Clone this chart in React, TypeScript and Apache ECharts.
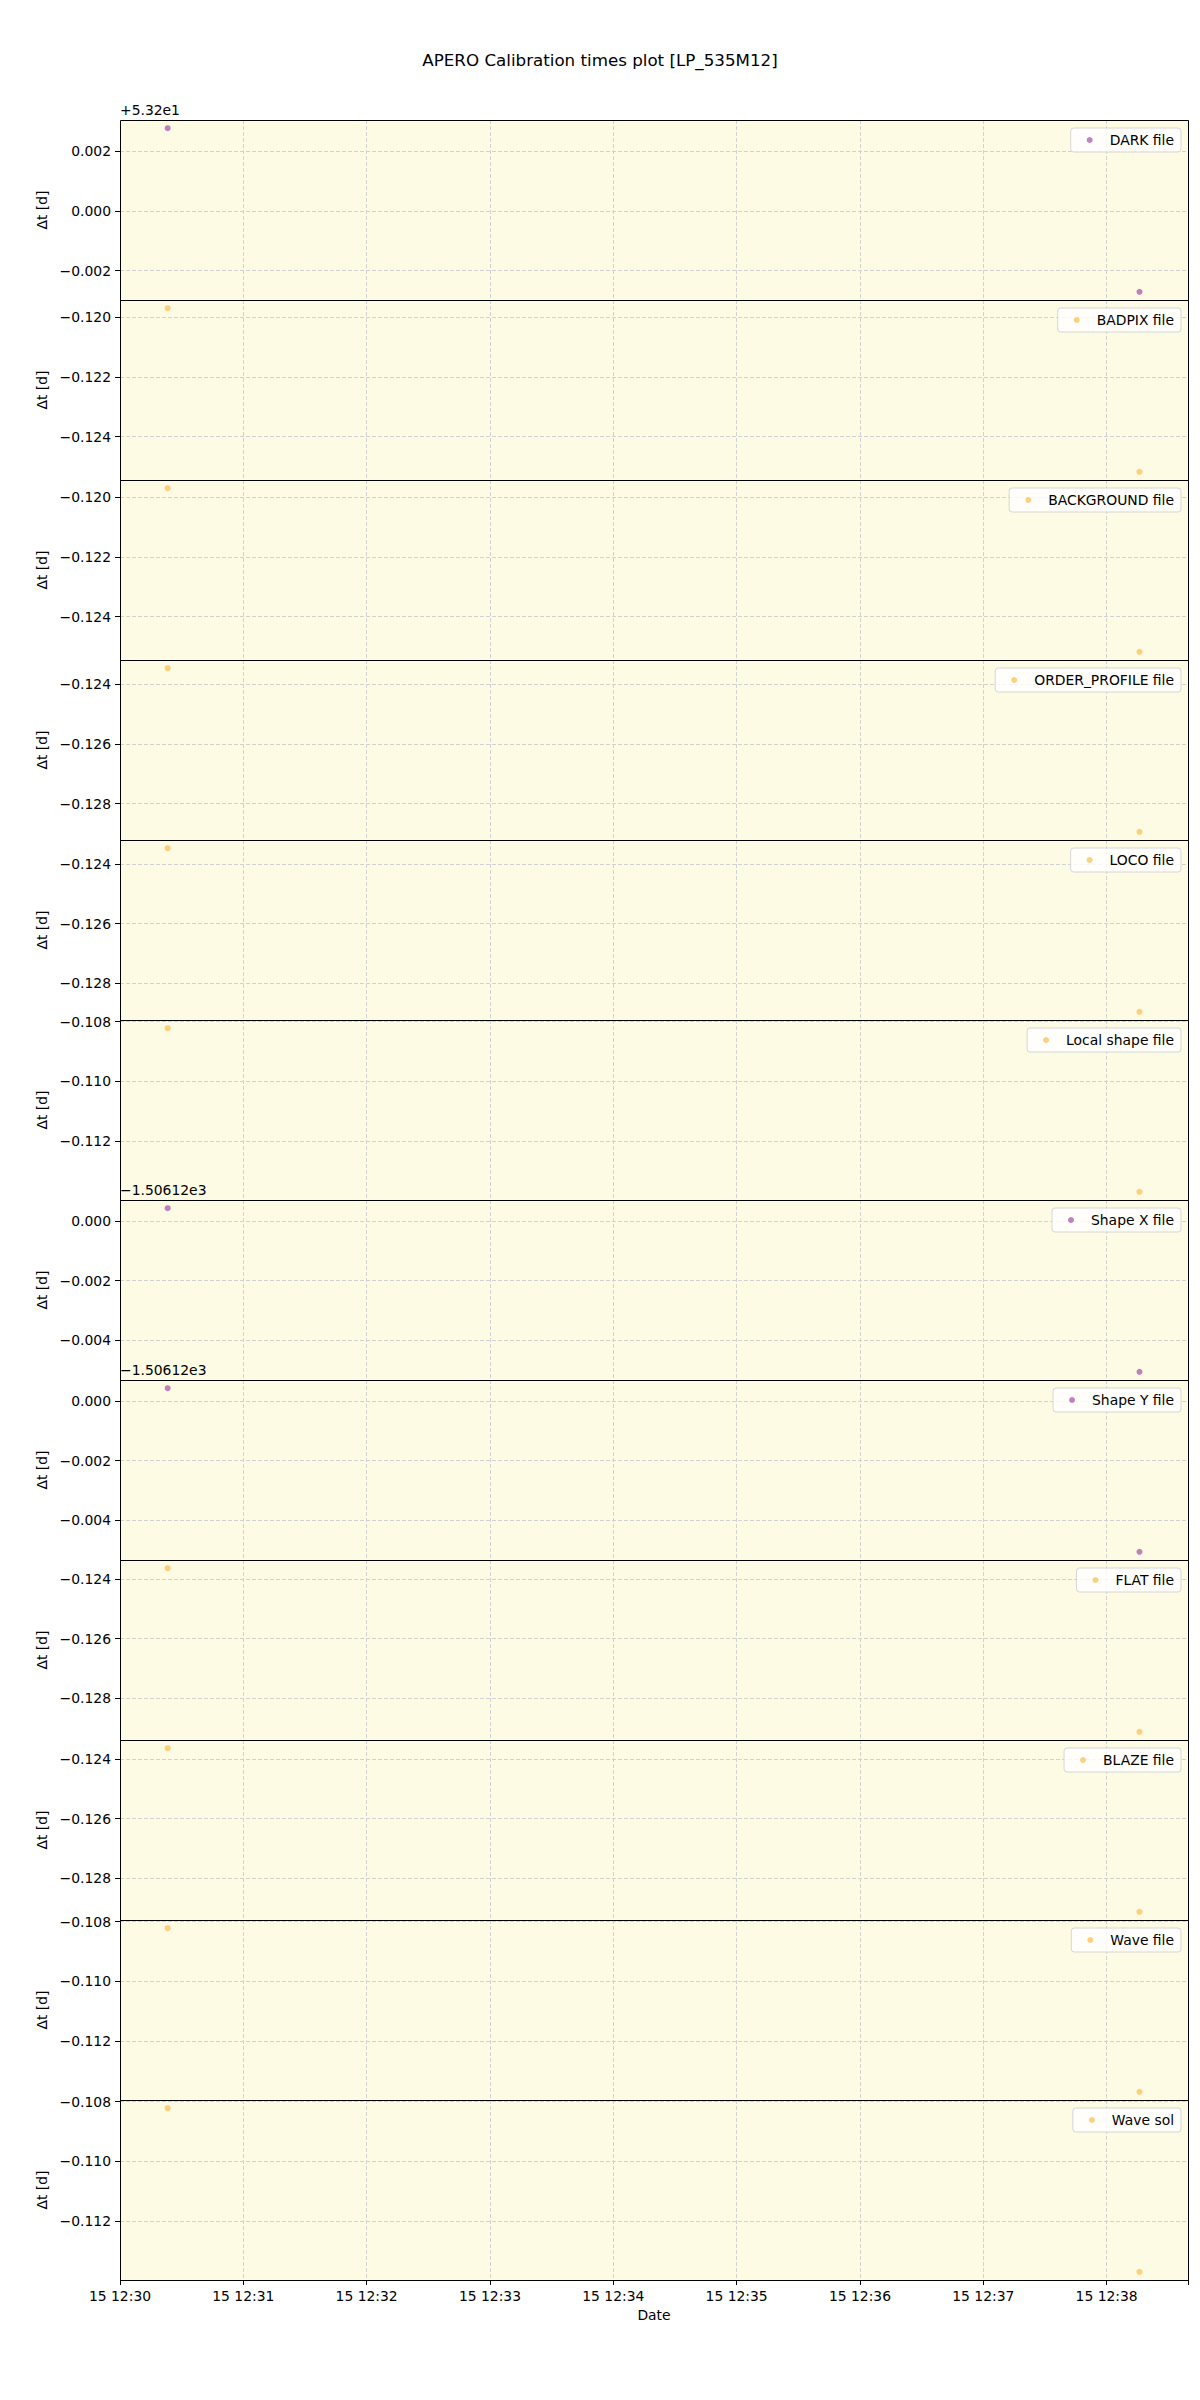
import { useRef, useEffect } from 'react'
import * as echarts from 'echarts'

// panel legends, top to bottom
const fileNames = [
  'DARK file', 'BADPIX file', 'BACKGROUND file', 'ORDER_PROFILE file', 'LOCO file', 'Local shape file',
  'Shape X file', 'Shape Y file', 'FLAT file', 'BLAZE file', 'Wave file', 'Wave sol',
]
const fileColors = [
  'purple', 'orange', 'orange', 'orange', 'orange', 'orange',
  'purple', 'purple', 'orange', 'orange', 'orange', 'orange',
]
// observation times (day 15), first and last point
const obsTimes = ['12:30:23.2', '12:38:16.0']
// Δt [d] at first / last point for every panel
const deltaFirst = [53.20277, -0.1197, -0.1197, -0.12346, -0.12347, -0.10822, -1506.11957, -1506.11957, -0.12364, -0.12364, -0.10822, -0.10822]
const deltaLast = [53.19729, -0.12518, -0.12518, -0.12894, -0.12895, -0.1137, -1506.12505, -1506.12505, -0.12912, -0.12912, -0.1137, -0.1137]
// matplotlib offset text per panel
const offsetValues = [53.2, 0, 0, 0, 0, 0, -1506.12, -1506.12, 0, 0, 0, 0]
const offsetLabels = ['+5.32e1', '', '', '', '', '', '\u22121.50612e3', '\u22121.50612e3', '', '', '', '']
// x axis bounds and ticks
const xStart = '12:30:00'
const xEnd = '12:38:39.6'
const xTickMinutes = ['12:30', '12:31', '12:32', '12:33', '12:34', '12:35', '12:36', '12:37', '12:38']

const FONT = 'DejaVu Sans'
const TOP = 120
const PANEL_H = 180
const LEFT = 120
const RIGHT = 12
const COLORS: Record<string, string> = { purple: '#b45fb2', orange: '#fec35c' }
const GRID_LINE = { color: '#d2d2d2', type: [4, 2], width: 1 }

const toSec = (s: string) => {
  const [h, m, sec] = s.split(':').map(Number)
  return (h - 12) * 3600 + (m - 30) * 60 + (sec || 0)
}
const fmtY = (v: number) => {
  const r = Math.abs(v) < 1e-9 ? 0 : v
  const s = r.toFixed(3)
  return s.startsWith('-') ? '\u2212' + s.slice(1) : s
}

export default function App() {
  const chartRef = useRef<HTMLDivElement>(null)

  useEffect(() => {
    if (!chartRef.current) return
    document.body.style.margin = '0'
    const chart = echarts.init(chartRef.current, undefined, { renderer: 'svg' })

    const n = fileNames.length
    const xs = obsTimes.map(toSec)
    const grids: any[] = []
    const xAxes: any[] = []
    const yAxes: any[] = []
    const series: any[] = []
    const legends: any[] = []
    const graphics: any[] = []

    for (let i = 0; i < n; i++) {
      const top = TOP + i * PANEL_H
      const last = i === n - 1
      const a = deltaFirst[i] - offsetValues[i]
      const b = deltaLast[i] - offsetValues[i]
      const lo = Math.min(a, b)
      const hi = Math.max(a, b)
      const pad = (hi - lo) * 0.05

      grids.push({
        left: LEFT, right: RIGHT, top, height: PANEL_H,
        show: true, backgroundColor: '#fdfbe3', borderWidth: 0,
      })
      xAxes.push({
        type: 'value', gridIndex: i,
        min: toSec(xStart), max: toSec(xEnd), interval: 60,
        axisLine: { show: false },
        axisTick: { show: last, length: 5, lineStyle: { color: '#000' } },
        axisLabel: {
          show: last, margin: 9, color: '#000', fontFamily: FONT, fontSize: 13.9,
          formatter: (v: number) => {
            const k = Math.round(v / 60)
            return Math.abs(v - k * 60) < 1e-6 && xTickMinutes[k] ? `15 ${xTickMinutes[k]}` : ''
          },
        },
        splitLine: { show: true, showMinLine: false, showMaxLine: false, lineStyle: GRID_LINE },
        name: last ? 'Date' : '',
        nameLocation: 'middle', nameGap: 28,
        nameTextStyle: { color: '#000', fontFamily: FONT, fontSize: 13.9 },
      })
      yAxes.push({
        type: 'value', gridIndex: i,
        min: lo - pad, max: hi + pad, splitNumber: 3,
        axisLine: { show: false },
        axisTick: { show: true, length: 5, lineStyle: { color: '#000' } },
        axisLabel: {
          margin: 9, color: '#000', fontFamily: FONT, fontSize: 13.9,
          showMinLabel: false, showMaxLabel: false,
          formatter: (v: number) => {
            const k = Math.round(v / 0.002)
            return Math.abs(v / 0.002 - k) < 1e-4 ? fmtY(k * 0.002) : ''
          },
        },
        splitLine: { show: true, showMinLine: false, showMaxLine: false, lineStyle: GRID_LINE },
        name: '\u0394t [d]', nameLocation: 'middle', nameGap: 68,
        nameTextStyle: { color: '#000', fontFamily: FONT, fontSize: 13.9 },
      })
      series.push({
        name: fileNames[i], type: 'scatter', xAxisIndex: i, yAxisIndex: i,
        symbol: 'circle', symbolSize: 6,
        itemStyle: { color: COLORS[fileColors[i]] },
        data: [[xs[0], a], [xs[1], b]],
      })
      legends.push({
        data: [fileNames[i]], right: 19, top: top + 8,
        orient: 'horizontal', icon: 'circle', itemWidth: 6, itemHeight: 6,
        backgroundColor: 'rgba(255,255,255,0.8)', borderColor: '#d6d6d6', borderWidth: 1, borderRadius: 3,
        padding: [5, 7, 5, 16],
        textStyle: { color: '#000', fontFamily: FONT, fontSize: 13.9, padding: [0, 0, 0, 12] },
      })
      // panel frame drawn on top of the grid lines
      graphics.push({
        type: 'rect', z: 50, silent: true,
        shape: { x: LEFT + 0.5, y: top + 0.5, width: 1200 - LEFT - RIGHT, height: PANEL_H },
        style: { fill: 'none', stroke: '#000', lineWidth: 1 },
      })
      if (offsetLabels[i]) {
        graphics.push({
          type: 'text', left: LEFT, top: top - 17, z: 100,
          style: { text: offsetLabels[i], fill: '#000', font: `13.9px "${FONT}"` },
        })
      }
    }

    chart.setOption({
      animation: false,
      backgroundColor: '#fff',
      title: {
        text: 'APERO Calibration times plot [LP_535M12]', left: 'center', top: 46,
        textStyle: { color: '#000', fontFamily: FONT, fontSize: 16.7, fontWeight: 'normal' },
      },
      grid: grids, xAxis: xAxes, yAxis: yAxes, series, legend: legends,
      graphic: graphics,
    })

    return () => chart.dispose()
  }, [])

  return <div ref={chartRef} style={{ width: 1200, height: 2400 }} />
}
